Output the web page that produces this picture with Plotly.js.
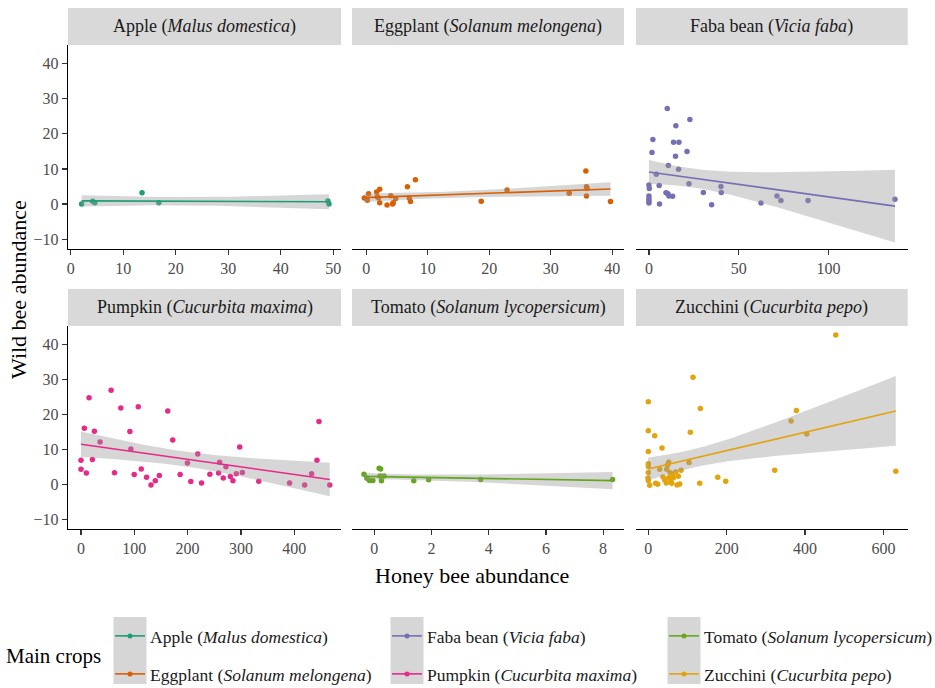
<!DOCTYPE html>
<html>
<head>
<meta charset="utf-8">
<script src="https://cdn.plot.ly/plotly-3.0.1.min.js"></script>
<style>html,body{margin:0;padding:0;background:#fff;}#chart{width:935px;height:688px;}</style>
</head>
<body>
<div id="chart"></div>
<script>
// ---------------- DATA ----------------
const crops = ["Apple", "Eggplant", "Faba bean", "Pumpkin", "Tomato", "Zucchini"];
const species = ["Malus domestica", "Solanum melongena", "Vicia faba", "Cucurbita maxima", "Solanum lycopersicum", "Cucurbita pepo"];
const colors = ["#1B9E77", "#D95F02", "#7570B3", "#E7298A", "#66A61E", "#E2A30C"];

const apple_x = [2.1, 4.2, 4.6, 13.6, 16.8, 49.0, 49.2];
const apple_y = [0.0, 0.8, 0.4, 3.2, 0.4, 0.9, 0.0];

const eggplant_x = [-0.3, 0.2, 0.4, 1.7, 1.8, 2.2, 2.0, 2.2, 3.4, 4.0, 4.3, 4.4, 4.8, 6.7, 7.0, 7.2, 8.0, 18.7, 22.9, 33.0, 35.7, 35.8, 35.9, 35.8, 39.7];
const eggplant_y = [1.7, 1.1, 2.9, 3.4, 2.1, 4.2, 1.8, 0.4, -0.3, 2.4, 0.0, 0.4, 1.6, 4.9, 1.7, 0.7, 6.9, 0.8, 4.0, 3.1, 9.4, 4.9, 4.5, 2.3, 0.7];

const faba_x = [10.2, 22.8, 15.0, 2.2, 13.7, 16.7, 1.7, 21.2, 14.8, 10.8, 16.5, 4.1, 0.0, 0.2, 5.7, 22.3, 40.1, 30.3, 40.3, 9.5, 10.6, 11.1, 13.2, 0.0, 0.0, 0.0, 0.0, 5.9, 34.9, 62.4, 71.3, 73.5, 88.6, 137.0];
const faba_y = [27.2, 24.1, 22.3, 18.4, 17.6, 17.6, 14.7, 15.0, 13.6, 11.0, 9.9, 8.5, 5.4, 4.4, 5.3, 5.8, 5.0, 3.3, 3.3, 3.2, 2.9, 2.3, 2.2, 2.3, 1.5, 0.9, 0.3, 0.0, -0.2, 0.3, 2.3, 1.0, 1.0, 1.4];

const pumpkin_x = [0, 0, 6.3, 10, 15.1, 21.3, 25.1, 35.8, 56.5, 62.8, 74.7, 91.7, 93.6, 99.8, 107.4, 113, 123, 131.3, 139.4, 146.9, 162.7, 172.1, 186, 199.7, 206, 219.1, 226.1, 241.8, 258.1, 260, 266.9, 271.9, 280.1, 285.1, 291.4, 297.7, 302.7, 333.5, 391.3, 419.6, 432.7, 442.7, 446.5, 466.7];
const pumpkin_y = [6.9, 4.3, 16.0, 3.2, 24.8, 7.1, 15.2, 12.1, 26.9, 3.3, 21.8, 15.1, 10.1, 2.8, 22.2, 4.4, 2.0, -0.2, 1.0, 2.5, 21.0, 12.7, 2.8, 6.1, 0.8, 8.7, 0.4, 2.9, 3.2, 6.3, 1.8, 5.0, 2.2, 1.0, 3.0, 10.7, 3.4, 0.9, 0.4, -0.2, 3.0, 6.9, 18.0, -0.2];

const tomato_x = [-0.36, -0.26, -0.17, -0.05, 0.17, 0.22, 0.20, 0.34, 0.25, 1.38, 1.90, 3.72, 8.33];
const tomato_y = [2.9, 1.7, 1.1, 1.1, 4.6, 4.4, 2.4, 2.4, 1.0, 1.0, 1.3, 1.4, 1.4];

const zucchini_x = [478.4, 114.1, 0, 132.8, 377.9, 364.3, 0, 16.3, 107.2, 404.4, 35, 0, 0, 0, 0, -0.8, 0, 3.6, 18.9, 24, 29.1, 37.5, 41.9, 46, 47, 49.5, 52, 52, 55.4, 57.2, 59.7, 62.3, 63.8, 69.9, 73.3, 76.6, 80.2, 83.5, 103.9, 131.2, 177.2, 197.6, 322.7, 631.6];
const zucchini_y = [42.7, 30.6, 23.6, 21.7, 21.1, 18.1, 15.3, 13.9, 14.9, 14.4, 10.4, 9.4, 5.9, 5.1, 3.4, 1.8, 1.1, -0.3, 0.3, 0.0, 4.3, 2.1, 1.2, 0.4, 4.3, 5.5, 6.3, 1.9, 3.3, 1.2, 0.3, 2.9, 1.9, 3.5, -0.2, 2.3, 0.1, 4.0, 6.2, 0.3, 2.0, 0.9, 4.0, 3.7];

const xs = [apple_x, eggplant_x, faba_x, pumpkin_x, tomato_x, zucchini_x];
const ys = [apple_y, eggplant_y, faba_y, pumpkin_y, tomato_y, zucchini_y];

const xTickStep = [10, 10, 50, 100, 2, 200];
const xRanges = [[-0.5, 51.5], [-2.3, 41.9], [-7.2, 144.1], [-24.4, 487.8], [-0.78, 8.73], [-31.4, 662]];
const yRange = [-12.8, 45.3];
const yTicks = [-10, 0, 10, 20, 30, 40];

// ---------------- HELPERS ----------------
const W = 935, H = 688;
const px = v => v / W;
const py = v => (H - v) / H;
const FONT = "Liberation Serif, Times New Roman, serif";

function tq975(df) {
  const z = 1.959964;
  const z3 = z * z * z, z5 = z3 * z * z, z7 = z5 * z * z;
  return z + (z3 + z) / (4 * df) + (5 * z5 + 16 * z3 + 3 * z) / (96 * df * df) +
    (3 * z7 + 19 * z5 + 17 * z3 - 15 * z) / (384 * df * df * df);
}

function lmFit(x, y) {
  const n = x.length;
  const mx = x.reduce((a, b) => a + b, 0) / n;
  const my = y.reduce((a, b) => a + b, 0) / n;
  let sxx = 0, sxy = 0;
  for (let i = 0; i < n; i++) { sxx += (x[i] - mx) ** 2; sxy += (x[i] - mx) * (y[i] - my); }
  const b = sxy / sxx, a = my - b * mx;
  let sse = 0;
  for (let i = 0; i < n; i++) sse += (y[i] - a - b * x[i]) ** 2;
  const s = Math.sqrt(sse / (n - 2));
  const t = tq975(n - 2);
  const xmin = Math.min(...x), xmax = Math.max(...x);
  const gx = [], gy = [], lo = [], hi = [];
  for (let k = 0; k < 80; k++) {
    const x0 = xmin + (xmax - xmin) * k / 79;
    const yh = a + b * x0;
    const se = s * Math.sqrt(1 / n + (x0 - mx) ** 2 / sxx);
    gx.push(x0); gy.push(yh); lo.push(yh - t * se); hi.push(yh + t * se);
  }
  return { gx, gy, lo, hi };
}

// ---------------- GEOMETRY ----------------
const colPx = [[68, 341], [352, 624], [636, 907.7]];
const rowPx = [[45, 249], [326, 529]];     // plot panel top/bottom
const stripPx = [[8, 45], [289, 326]];     // strip top/bottom

const traces = [];
const layout = {
  width: W, height: H,
  margin: { l: 0, r: 0, t: 0, b: 0, autoexpand: false },
  paper_bgcolor: "#fff", plot_bgcolor: "rgba(0,0,0,0)",
  font: { family: FONT, color: "#1A1A1A" },
  showlegend: true,
  shapes: [], annotations: []
};

for (let i = 0; i < 6; i++) {
  const col = i % 3, row = Math.floor(i / 3);
  const xid = "x" + (i + 1), yid = "y" + (i + 1);
  const xa = "xaxis" + (i + 1), ya = "yaxis" + (i + 1);
  const c = colPx[col], r = rowPx[row];
  layout[xa] = {
    domain: [px(c[0]), px(c[1])], anchor: yid, range: xRanges[i], dtick: xTickStep[i], tick0: 0,
    showline: true, linecolor: "#000", linewidth: 1.2, mirror: false,
    ticks: "outside", ticklen: 5, tickwidth: 1.2, tickcolor: "#333",
    tickfont: { family: FONT, size: 16, color: "#4D4D4D" },
    showgrid: false, zeroline: false, fixedrange: true
  };
  layout[ya] = {
    domain: [py(r[1]), py(r[0])], anchor: xid, range: yRange,
    tickvals: yTicks,
    showline: col === 0, linecolor: "#000", linewidth: 1.2,
    ticks: col === 0 ? "outside" : "", ticklen: 5, tickwidth: 1.2, tickcolor: "#333",
    showticklabels: col === 0,
    tickfont: { family: FONT, size: 16, color: "#4D4D4D" },
    showgrid: false, zeroline: false, fixedrange: true
  };
  // strip
  const s = stripPx[row];
  layout.shapes.push({
    type: "rect", xref: "paper", yref: "paper", layer: "below",
    x0: px(c[0]), x1: px(c[1]), y0: py(s[1]), y1: py(s[0]),
    fillcolor: "#D9D9D9", line: { width: 0 }
  });
  layout.annotations.push({
    xref: "paper", yref: "paper", x: px((c[0] + c[1]) / 2), y: py((s[0] + s[1]) / 2),
    xanchor: "center", yanchor: "middle", showarrow: false,
    text: crops[i] + " (<i>" + species[i] + "</i>)",
    font: { family: FONT, size: 18, color: "#1A1A1A" }
  });

  // points
  traces.push({
    type: "scatter", mode: "markers", x: xs[i], y: ys[i], xaxis: xid, yaxis: yid,
    marker: { color: colors[i], size: 5.5, line: { width: 0 } },
    showlegend: false, hoverinfo: "skip"
  });
  // fit (ribbon then line, drawn over the points like geom_smooth)
  const f = lmFit(xs[i], ys[i]);
  traces.push({
    type: "scatter", mode: "lines", xaxis: xid, yaxis: yid,
    x: f.gx.concat(f.gx.slice().reverse()),
    y: f.hi.concat(f.lo.slice().reverse()),
    fill: "toself", fillcolor: "rgba(153,153,153,0.4)", line: { width: 0 },
    showlegend: false, hoverinfo: "skip"
  });
  traces.push({
    type: "scatter", mode: "lines", xaxis: xid, yaxis: yid, x: f.gx, y: f.gy,
    line: { color: colors[i], width: 1.6 }, showlegend: false, hoverinfo: "skip"
  });
}

// legend: one legend per entry, placed column-major like ggplot (2 rows x 3 columns)
const LX = [110, 387, 664];
const LY = [636, 674];
for (let i = 0; i < 6; i++) {
  const lid = i === 0 ? "legend" : "legend" + (i + 1);
  const col = Math.floor(i / 2), row = i % 2;
  traces.push({
    type: "scatter", mode: "lines+markers", x: [null], y: [null], xaxis: "x", yaxis: "y",
    name: crops[i] + " (<i>" + species[i] + "</i>)",
    legend: lid,
    line: { color: colors[i], width: 1.6 }, marker: { color: colors[i], size: 5 },
    showlegend: true, hoverinfo: "skip"
  });
  layout[lid] = {
    orientation: "v", x: px(LX[col]), xanchor: "left", y: py(LY[row]), yanchor: "middle",
    font: { family: FONT, size: 17.5, color: "#1A1A1A" }, bgcolor: "rgba(0,0,0,0)", borderwidth: 0
  };
}
for (let k = 0; k < 3; k++) {
  const cx = LX[k] + 20;
  layout.shapes.push({
    type: "rect", xref: "paper", yref: "paper", layer: "below",
    x0: px(cx - 16.5), x1: px(cx + 16.5), y0: py(684), y1: py(617),
    fillcolor: "#D6D6D6", line: { width: 0 }
  });
}
layout.annotations.push({
  xref: "paper", yref: "paper", x: px(4), y: py(656), xanchor: "left", yanchor: "middle",
  showarrow: false, text: "Main crops", font: { family: FONT, size: 21, color: "#000" }
});
// axis titles
layout.annotations.push({
  xref: "paper", yref: "paper", x: px(472), y: py(575), xanchor: "center", yanchor: "middle",
  showarrow: false, text: "Honey bee abundance", font: { family: FONT, size: 22, color: "#000" }
});
layout.annotations.push({
  xref: "paper", yref: "paper", x: px(18), y: py(290), xanchor: "center", yanchor: "middle",
  showarrow: false, textangle: -90, text: "Wild bee abundance", font: { family: FONT, size: 22, color: "#000" }
});

Plotly.newPlot("chart", traces, layout, { staticPlot: true, displayModeBar: false });
</script>
</body>
</html>
